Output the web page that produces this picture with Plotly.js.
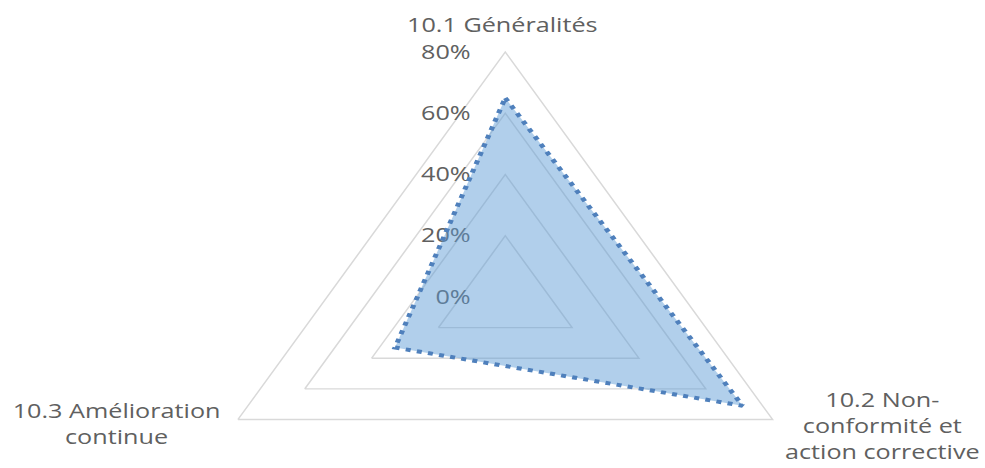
<!DOCTYPE html>
<html>
<head>
<meta charset="utf-8">
<script src="https://cdn.plot.ly/plotly-3.0.1.min.js"></script>
<style>
  html, body { margin: 0; padding: 0; background: #ffffff; overflow: hidden; }
  #wrap { width: 985px; height: 468px; overflow: hidden; position: relative; }
  /* the radar is drawn round and then widened, giving the flattened triangle */
  #chart { width: 782px; height: 560px; transform: scaleX(1.26); transform-origin: 0 0; }
</style>
</head>
<body>
<div id="wrap"><div id="chart"></div></div>
<script>
// Categories (clockwise from the top) and their scores
const categories = ["10.1 Généralités", "10.2 Non-<br>conformité et<br>action corrective", "10.3 Amélioration<br>continue"];
const values = [0.65, 0.71, 0.33];
// Radial scale
const radialTicks = [0, 0.2, 0.4, 0.6, 0.8];
const radialTickText = ["0%", "20%", "40%", "60%", "80%"];
// Where each category caption sits around the triangle (paper coords)
const captionX = [0.5095, 0.896, 0.1188];
const captionY = [0.9554, 0.2393, 0.2446];

const textColor = "#606060";
const gridColor = "#d9d9d9";
const fontFamily = "Open Sans, sans-serif";
const fontSize = 20;

const trace = {
  type: "scatterpolar",
  r: values.concat([values[0]]),
  theta: categories.concat([categories[0]]),
  mode: "lines",
  fill: "toself",
  fillcolor: "rgba(91,155,213,0.48)",
  line: { color: "#4f80bc", width: 4, dash: "4px,5px" },
  hoverinfo: "skip",
  showlegend: false
};

const annotations = categories.map((c, i) => ({
  text: c,
  xref: "paper", yref: "paper",
  x: captionX[i], y: captionY[i],
  xanchor: "center", yanchor: "middle",
  align: "center",
  showarrow: false,
  font: { family: fontFamily, size: fontSize, color: textColor }
}));

const layout = {
  width: 782,
  height: 560,
  margin: { l: 0, r: 0, t: 0, b: 0 },
  paper_bgcolor: "#ffffff",
  showlegend: false,
  font: { family: fontFamily, size: fontSize, color: textColor },
  polar: {
    domain: { x: [0.1995, 0.8261], y: [0.0321, 0.9071] },
    bgcolor: "#ffffff",
    gridshape: "linear",
    radialaxis: {
      range: [0, 0.8],
      tickvals: radialTicks,
      ticktext: radialTickText,
      angle: 90,
      tickangle: 90,
      side: "counterclockwise",
      showline: false,
      ticks: "outside",
      ticklen: 20,
      tickcolor: "rgba(0,0,0,0)",
      gridcolor: gridColor,
      gridwidth: 1.3,
      layer: "below traces",
      tickfont: { family: fontFamily, size: fontSize, color: textColor }
    },
    angularaxis: {
      rotation: 90,
      direction: "clockwise",
      showgrid: false,
      showline: true,
      linecolor: gridColor,
      linewidth: 1.3,
      ticks: "",
      showticklabels: false,
      layer: "below traces"
    }
  },
  annotations: annotations
};

Plotly.newPlot("chart", [trace], layout, { displayModeBar: false, staticPlot: true });
</script>
</body>
</html>
